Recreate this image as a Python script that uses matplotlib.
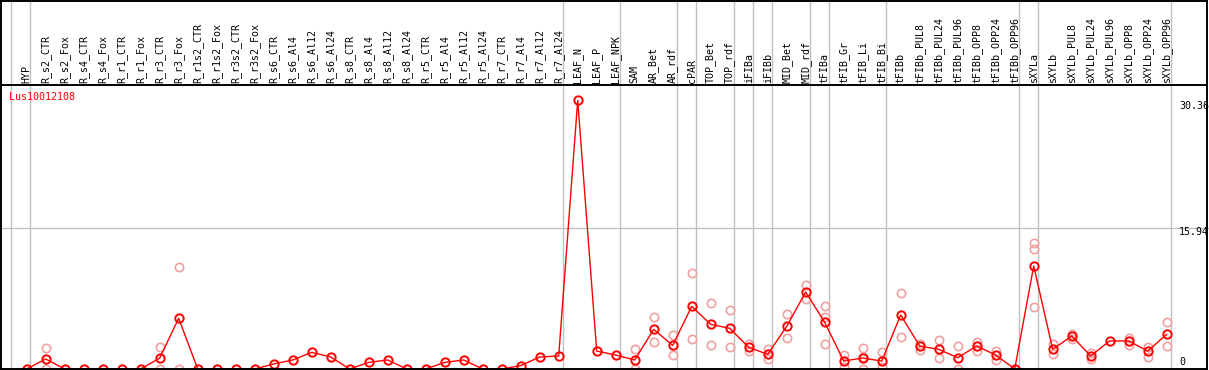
import matplotlib
matplotlib.use("Agg")
import matplotlib.pyplot as plt

# ── Data ──────────────────────────────────────────────────────────────────────
GENE = "Lus10012108"

categories = [
    "HYP", "R_s2_CTR", "R_s2_Fox", "R_s4_CTR", "R_s4_Fox", "R_r1_CTR",
    "R_r1_Fox", "R_r3_CTR", "R_r3_Fox", "R_r1s2_CTR", "R_r1s2_Fox",
    "R_r3s2_CTR", "R_r3s2_Fox", "R_s6_CTR", "R_s6_Al4", "R_s6_Al12",
    "R_s6_Al24", "R_s8_CTR", "R_s8_Al4", "R_s8_Al12", "R_s8_Al24",
    "R_r5_CTR", "R_r5_Al4", "R_r5_Al12", "R_r5_Al24", "R_r7_CTR",
    "R_r7_Al4", "R_r7_Al12", "R_r7_Al24", "LEAF_N", "LEAF_P", "LEAF_NPK",
    "SAM", "AR_Bet", "AR_rdf", "cPAR", "TOP_Bet", "TOP_rdf", "iFIBa",
    "iFIBb", "MID_Bet", "MID_rdf", "tFIBa", "tFIB_Gr", "tFIB_Li", "tFIB_Bi",
    "tFIBb", "tFIBb_PUL8", "tFIBb_PUL24", "tFIBb_PUL96", "tFIBb_OPP8",
    "tFIBb_OPP24", "tFIBb_OPP96", "sXYLa", "sXYLb", "sXYLb_PUL8",
    "sXYLb_PUL24", "sXYLb_PUL96", "sXYLb_OPP8", "sXYLb_OPP24", "sXYLb_OPP96",
]

means = [
    0, 1.13, 0, 0, 0, 0,
    0, 1.24, 5.73, 0, 0,
    0, 0, 0.57, 1.02, 1.88,
    1.36, 0, 0.75, 1.02, 0,
    0, 0.75, 1.02, 0, 0,
    0.38, 1.36, 1.47, 30.36, 2.03, 1.58,
    1.02, 4.48, 2.67, 7.08, 5.05, 4.60, 2.45,
    1.66, 4.82, 8.70, 5.28, 0.90, 1.24, 0.90,
    6.10, 2.60, 2.22, 1.28, 2.60,
    1.58, 0, 11.64, 2.22, 3.73,
    1.47, 3.17, 3.17, 2.03, 3.92,
]

# individual replicates (light circles)
rep_names = [
    "R_s2_CTR", "R_s2_CTR", "R_r3_CTR", "R_r3_CTR", "R_r3_Fox", "R_r3_Fox",
    "SAM", "SAM", "AR_Bet", "AR_Bet", "AR_rdf", "AR_rdf", "cPAR", "cPAR",
    "TOP_Bet", "TOP_Bet", "TOP_rdf", "TOP_rdf", "iFIBa", "iFIBa",
    "iFIBb", "iFIBb", "MID_Bet", "MID_Bet", "MID_rdf", "MID_rdf",
    "tFIBa", "tFIBa", "tFIBa", "tFIB_Gr", "tFIB_Gr",
    "tFIB_Li", "tFIB_Li", "tFIB_Li", "tFIB_Bi", "tFIB_Bi", "tFIBb", "tFIBb",
    "tFIBb_PUL8", "tFIBb_PUL8", "tFIBb_PUL24", "tFIBb_PUL24",
    "tFIBb_PUL96", "tFIBb_PUL96", "tFIBb_OPP8", "tFIBb_OPP8",
    "tFIBb_OPP24", "tFIBb_OPP24", "sXYLa", "sXYLa", "sXYLa",
    "sXYLb", "sXYLb", "sXYLb_PUL8", "sXYLb_PUL8", "sXYLb_PUL24", "sXYLb_PUL24",
    "sXYLb_OPP8", "sXYLb_OPP8", "sXYLb_OPP24", "sXYLb_OPP24",
    "sXYLb_OPP96", "sXYLb_OPP96",
]
rep_values = [
    2.37, 0, 2.45, 0, 11.5, 0,
    2.26, 0, 5.84, 3.01, 3.80, 1.54, 10.8, 3.35,
    7.42, 2.67, 6.63, 2.49, 2.86, 2.07,
    2.26, 1.09, 6.18, 3.47, 9.46, 7.88,
    7.08, 5.88, 2.79, 1.58, 0.19,
    2.34, 1.39, 0, 1.88, 0.26, 8.56, 3.58,
    2.83, 2.15, 3.28, 1.24,
    2.60, 0, 3.09, 2.07,
    2.07, 1.02, 14.2, 13.53, 7.04,
    2.83, 1.66, 3.92, 3.39, 1.85, 1.09,
    3.54, 2.75, 2.52, 1.39,
    5.28, 2.56,
]

# last sample of each tissue group (a separator follows it)
group_ends = ["HYP", "R_r7_Al24", "LEAF_NPK", "AR_rdf", "cPAR", "TOP_rdf",
              "iFIBa", "iFIBb", "MID_rdf", "tFIBa", "tFIB_Bi", "tFIBb_OPP96",
              "sXYLa", "sXYLb_OPP96"]

y_labels = [30.36, 15.94, 0]

# ── Styling ───────────────────────────────────────────────────────────────────
W, H = 1209, 370
HDR = 85                      # header height in px
STEP = 19.0                   # px per sample
X0 = 26.7                     # px position of first sample
PX_PER_UNIT = 8.846
RED = "#FF0000"
PINK = "#F0A0A0"
GRID = "#C0C0C0"
FONT = "DejaVu Sans Mono"
FS = 7.2

fig = plt.figure(figsize=(W / 100, H / 100), dpi=100, facecolor="white")
ax = fig.add_axes([0, 0, 1, (H - HDR) / H])
hdr = fig.add_axes([0, (H - HDR) / H, 1, HDR / H], sharex=ax)

xlim = (-X0 / STEP, (W - X0) / STEP)
ax.set_xlim(*xlim)
ybot = -1 / PX_PER_UNIT
ax.set_ylim(ybot, ybot + (H - HDR) / PX_PER_UNIT)
hdr.set_ylim(0, 1)
for a in (ax, hdr):
    a.axis("off")

# separators
idx = {c: i for i, c in enumerate(categories)}
seps = [-0.8] + [idx[g] + 0.2 for g in group_ends]
for s in seps:
    ax.axvline(s, color=GRID, lw=1, zorder=0)
    hdr.axvline(s, color=GRID, lw=1, zorder=0)
ax.axhline(y_labels[1], color=GRID, lw=1, zorder=0)

# replicates, then mean line
rep_x = [idx[n] for n in rep_names]
ax.plot(rep_x, rep_values, ls="none", marker="o", ms=6, mfc="none",
        mec=PINK, mew=1.2, zorder=2)
ax.plot(range(len(categories)), means, color=RED, lw=1, marker="o", ms=6,
        mfc="none", mec=RED, mew=1.4, zorder=3, clip_on=False)

# header labels
for i, c in enumerate(categories):
    hdr.text(i, 2 / HDR, c, rotation=90, ha="center", va="bottom",
             fontsize=FS, family=FONT, color="black")

ax.text(9 / W, 1 - 12.5 / (H - HDR), GENE, transform=ax.transAxes,
        ha="left", va="center", fontsize=FS, family=FONT, color=RED)

# scale labels on the right
offsets = [-6, -4.5, 7]
for v, off in zip(y_labels, offsets):
    ax.annotate(f"{v:g}", xy=(1179 / W, v), xycoords=("axes fraction", "data"),
                xytext=(0, off), textcoords="offset pixels",
                ha="left", va="center", fontsize=FS, family=FONT)

# frame
frame = fig.add_axes([0, 0, 1, 1], facecolor="none")
frame.set_xlim(0, W)
frame.set_ylim(H, 0)
frame.axis("off")
kw = dict(color="black", lw=1.4, solid_capstyle="butt")
frame.plot([1, 1207], [0.7, 0.7], **kw)
frame.plot([1, 1207], [HDR, HDR], **kw)
frame.plot([1, 1207], [369, 369], **kw)
frame.plot([1, 1], [0, 370], **kw)
frame.plot([1207, 1207], [0, 370], **kw)

fig.savefig("out.png", dpi=100, facecolor="white")
